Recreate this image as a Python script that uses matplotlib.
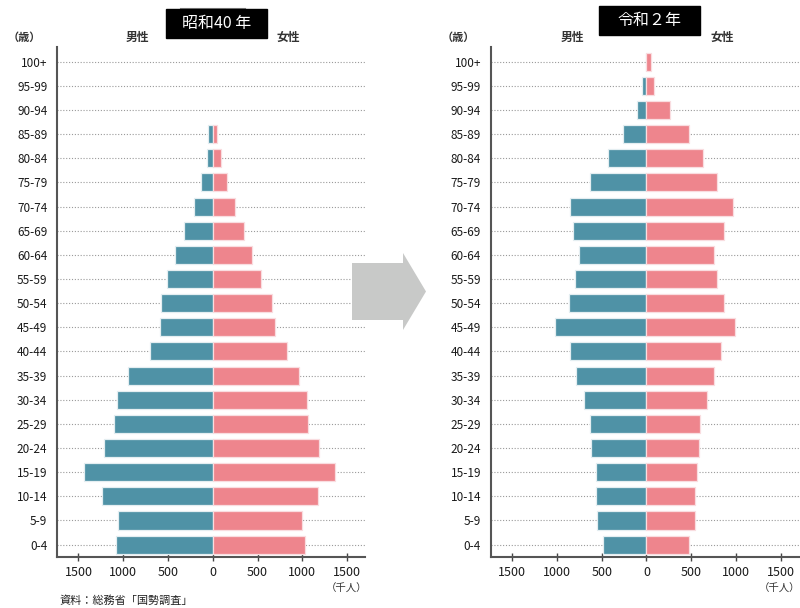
import numpy as np
import matplotlib.pyplot as plt
from matplotlib.patches import Polygon, Rectangle
from matplotlib.lines import Line2D

plt.rcParams['font.family'] = ['Noto Sans CJK JP', 'DejaVu Sans']

age_groups = ['0-4', '5-9', '10-14', '15-19', '20-24', '25-29', '30-34', '35-39',
              '40-44', '45-49', '50-54', '55-59', '60-64', '65-69', '70-74',
              '75-79', '80-84', '85-89', '90-94', '95-99', '100+']

# 千人, 0-4 から 100+ の順
male_s40 = [1083, 1060, 1235, 1436, 1213, 1105, 1071, 952, 696, 588, 577,
            506, 424, 320, 212, 130, 63, 52, 0, 0, 0]
female_s40 = [1034, 1001, 1176, 1365, 1187, 1068, 1056, 963, 833, 696, 658,
              539, 443, 353, 246, 164, 93, 45, 0, 0, 0]

male_r2 = [491, 551, 562, 562, 621, 632, 699, 785, 856, 1019, 867,
           796, 751, 822, 856, 632, 432, 257, 104, 45, 8]
female_r2 = [472, 543, 543, 565, 591, 603, 673, 755, 833, 990, 870,
             789, 755, 870, 967, 789, 636, 472, 257, 82, 48]

x_ticks = [-1500, -1000, -500, 0, 500, 1000, 1500]

MALE = '#4f92a6'
FEMALE = '#ee858d'
W, H = 800, 608


def fx(x):
    return x / W


def fy(y):
    return 1 - y / H


def draw_pyramid(ax, male, female):
    y = np.arange(len(age_groups))
    male = np.array(male)
    female = np.array(female)
    xmin, xmax = -1740, 1700
    ax.hlines(y, xmin, xmax, colors='#9a9a9a', linestyles=(0, (1, 1.6)),
              linewidth=0.8, zorder=0)
    # 0 の階級は棒を描かない
    m = male > 0
    f = female > 0
    ax.barh(y[m], -male[m], height=0.75, color=MALE,
            edgecolor='#e4eef1', linewidth=0.9, zorder=2)
    ax.barh(y[f], female[f], height=0.75, color=FEMALE,
            edgecolor='#f9dde0', linewidth=0.9, zorder=2)
    ax.set_xlim(xmin, xmax)
    ax.set_ylim(-0.5, 20.62)
    ax.set_yticks(y)
    ax.set_yticklabels(age_groups, fontsize=8.5, color='#1a1a1a')
    ax.set_xticks(x_ticks)
    ax.set_xticklabels([str(abs(v)) for v in x_ticks], fontsize=9, color='#1a1a1a')
    ax.tick_params(axis='y', length=0, pad=7)
    ax.tick_params(axis='x', direction='inout', length=6, width=1,
                   color='#444444', pad=4)
    for s in ['top', 'right']:
        ax.spines[s].set_visible(False)
    for s in ['left', 'bottom']:
        ax.spines[s].set_color('#555555')
        ax.spines[s].set_linewidth(1.5)


fig = plt.figure(figsize=(8, 6.08), dpi=100)

ax_left = fig.add_axes([fx(57), fy(556.7), 308 / W, 510 / H])
ax_right = fig.add_axes([fx(490.7), fy(556.7), 308 / W, 510 / H])
draw_pyramid(ax_left, male_s40, female_s40)
draw_pyramid(ax_right, male_r2, female_r2)

# 見出しの黒い帯
for (x0, y0, x1, y1, label) in [(166, 9, 267, 38, '昭和40 年'),
                                (599, 6, 700, 35, '令和２年')]:
    fig.add_artist(Rectangle((fx(x0), fy(y1)), (x1 - x0) / W, (y1 - y0) / H,
                             transform=fig.transFigure, color='black', zorder=5))
    fig.text(fx((x0 + x1) / 2), fy((y0 + y1) / 2), label, color='white',
             fontsize=11.5, ha='center', va='center', zorder=6)
fig.add_artist(Line2D([fx(180), fx(245)], [fy(8), fy(8)], color='#888888',
                      linewidth=0.8, transform=fig.transFigure))

# 軸の見出し
for xs in [(24, 137, 288), (458, 572, 722)]:
    fig.text(fx(xs[0]), fy(37), '（歳）', fontsize=8, fontweight='bold',
             color='#333333', ha='center', va='center')
    fig.text(fx(xs[1]), fy(37), '男性', fontsize=8.5, fontweight='bold',
             color='#333333', ha='center', va='center')
    fig.text(fx(xs[2]), fy(37), '女性', fontsize=8.5, fontweight='bold',
             color='#333333', ha='center', va='center')

for xu in [347, 780]:
    fig.text(fx(xu), fy(589), '（千人）', fontsize=7.5, color='#333333',
             ha='center', va='center')

fig.text(fx(60), fy(601), '資料：総務省「国勢調査」', fontsize=8,
         color='#222222', ha='left', va='center')

# 中央の矢印
arrow = [(352, 263), (403, 263), (403, 253), (426, 291.5), (403, 330),
         (403, 320), (352, 320)]
fig.add_artist(Polygon([(fx(x), fy(y)) for x, y in arrow], closed=True,
                       transform=fig.transFigure, facecolor='#c8c9c8',
                       edgecolor='none', zorder=1))

fig.savefig('out.png', dpi=100)
